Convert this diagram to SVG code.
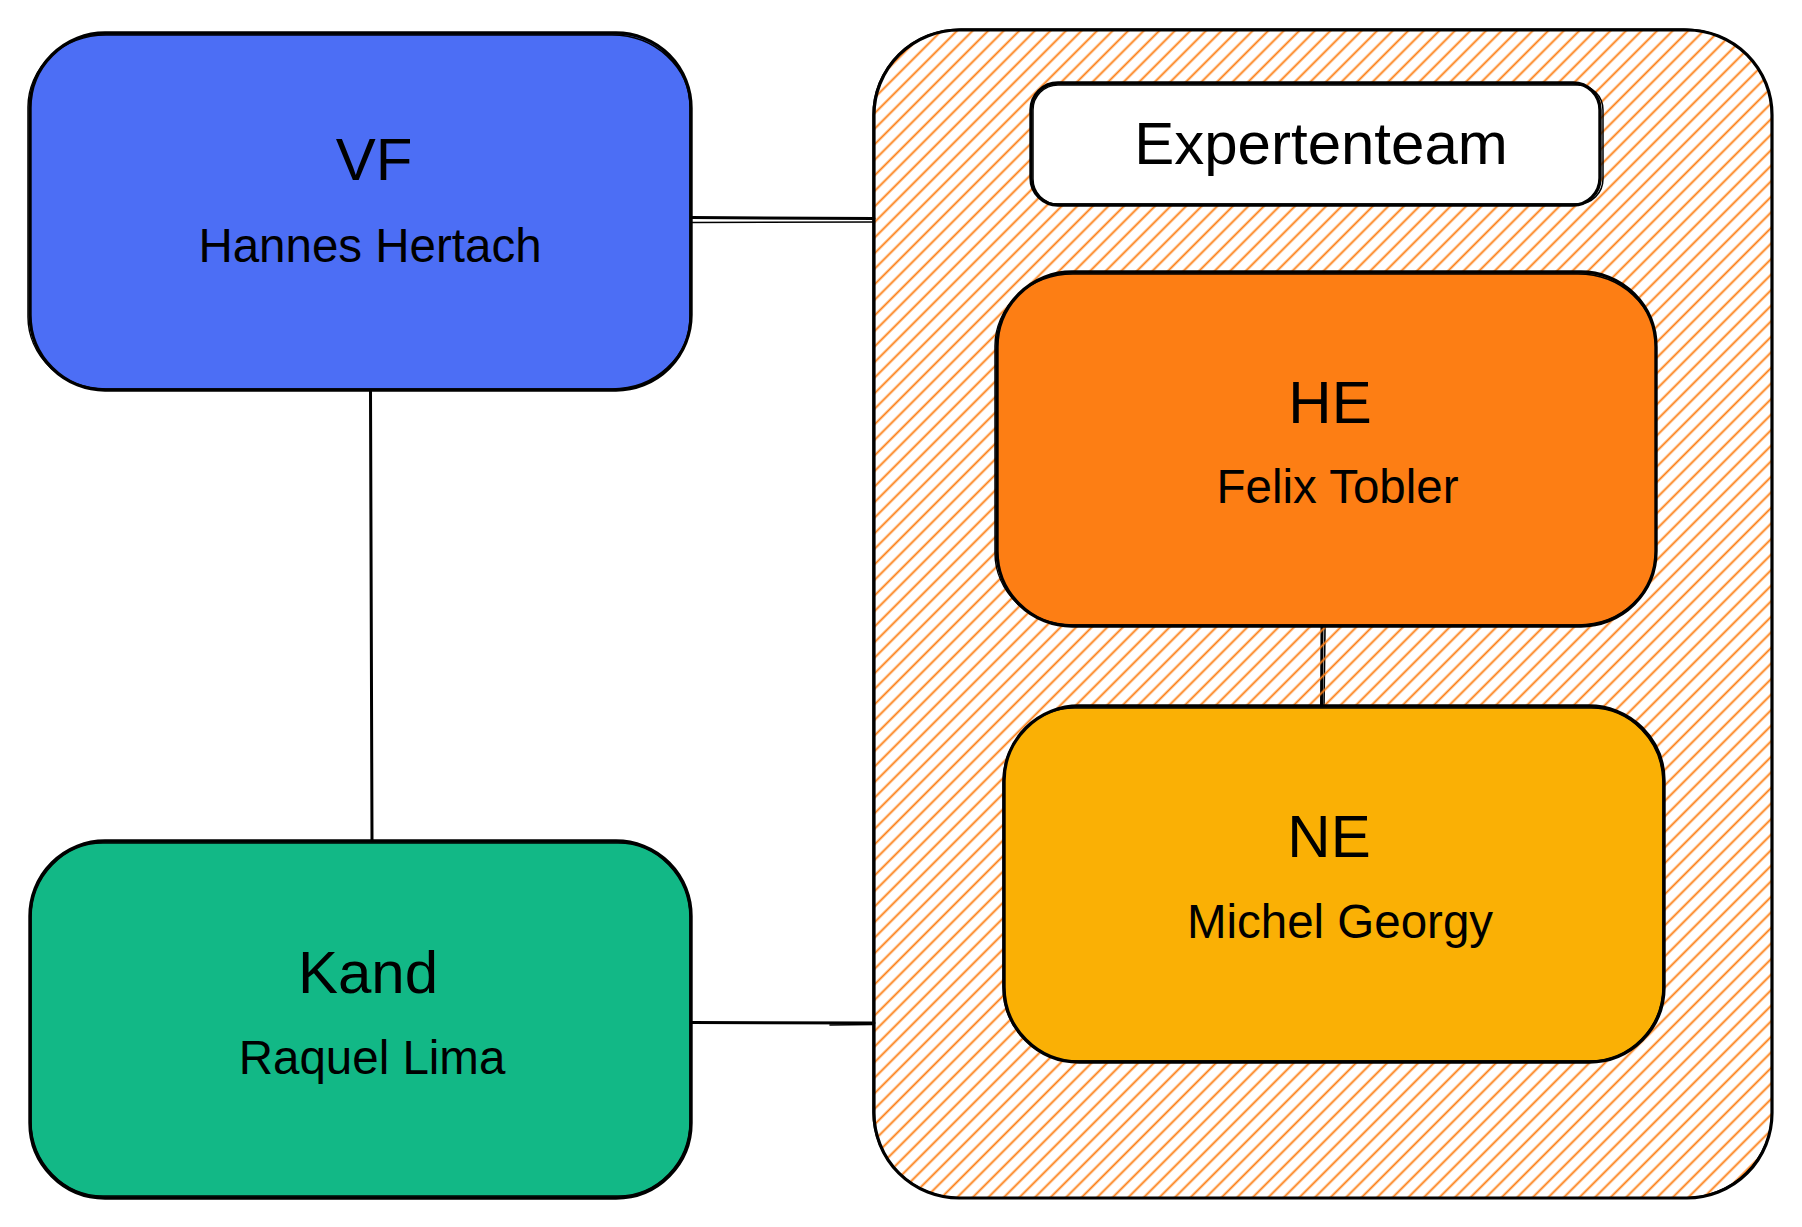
<svg xmlns="http://www.w3.org/2000/svg" width="1802" height="1227" viewBox="0 0 1802 1227">
  <style>
    .box { stroke: #000; stroke-width: 3.4; }
    .sk { fill: none; stroke: #000; stroke-width: 1.5; }
    .title { font-family: "Liberation Sans", Arial, Helvetica, sans-serif; font-size: 60px; fill: #000; text-anchor: middle; }
    .name { font-family: "Liberation Sans", Arial, Helvetica, sans-serif; font-size: 47.5px; fill: #000; text-anchor: middle; }
    .conn { fill: none; stroke: #000; stroke-width: 3; stroke-linecap: round; }
    .conn2 { fill: none; stroke: #000; stroke-width: 1.6; stroke-linecap: round; }
  </style>
  <defs>
    <pattern id="hatch" patternUnits="userSpaceOnUse" width="11" height="11" patternTransform="rotate(45)">
      <line x1="5.5" y1="-1" x2="5.5" y2="12" stroke="#fd7e14" stroke-width="1.9"/>
    </pattern>
  </defs>
  <rect width="1802" height="1227" fill="#ffffff"/>

  <g id="connectors">
    <path class="conn" d="M691 217.5 L874 218.5"/>
    <path class="conn2" d="M692 222.5 L873 222"/>
    <path class="conn" d="M370.5 390 L372 841"/>
    <path class="conn" d="M691 1022.5 L874 1023"/>
    <path class="conn2" d="M830 1025 L873 1024.5"/>
    <path class="conn" d="M1322 626 L1321.5 706"/>
    <path class="conn2" d="M1325 627 L1324 706"/>
  </g>

  <g id="expertenteam-container">
    <rect x="874" y="30" width="898" height="1168" rx="85" ry="85" fill="url(#hatch)" stroke="#000" stroke-width="3.2"/>
    <rect x="873" y="29" width="899" height="1169" rx="88" ry="86" class="sk"/>
  </g>

  <g id="node-vf">
    <rect class="box" x="30" y="33" width="661" height="357" rx="75" ry="75" fill="#4c6ef5"/>
    <rect class="sk" x="28" y="35" width="662" height="354" rx="78" ry="72"/>
    <text class="title" x="374" y="180">VF</text>
    <text class="name" x="370" y="262">Hannes Hertach</text>
  </g>

  <g id="node-kand">
    <rect class="box" x="30" y="841" width="661" height="357" rx="75" ry="75" fill="#12b886"/>
    <rect class="sk" x="31" y="843" width="659" height="353" rx="72" ry="75"/>
    <text class="title" x="368" y="993">Kand</text>
    <text class="name" x="372" y="1074">Raquel Lima</text>
  </g>

  <g id="node-expertenteam">
    <rect class="box" x="1031" y="83" width="569" height="122" rx="27" ry="27" fill="#ffffff"/>
    <rect class="sk" x="1033" y="85" width="570" height="119" rx="25" ry="25"/>
    <text class="title" x="1321" y="164">Expertenteam</text>
  </g>

  <g id="node-he">
    <rect class="box" x="997" y="272" width="659" height="354" rx="75" ry="75" fill="#fd7e14"/>
    <rect class="sk" x="995" y="274" width="661" height="351" rx="78" ry="72"/>
    <text class="title" x="1330" y="423">HE</text>
    <text class="name" x="1337.5" y="503">Felix Tobler</text>
  </g>

  <g id="node-ne">
    <rect class="box" x="1004" y="706" width="660" height="356" rx="75" ry="75" fill="#fab005"/>
    <rect class="sk" x="1003" y="708" width="660" height="353" rx="72" ry="75"/>
    <text class="title" x="1329" y="857">NE</text>
    <text class="name" x="1340" y="938">Michel Georgy</text>
  </g>
</svg>
